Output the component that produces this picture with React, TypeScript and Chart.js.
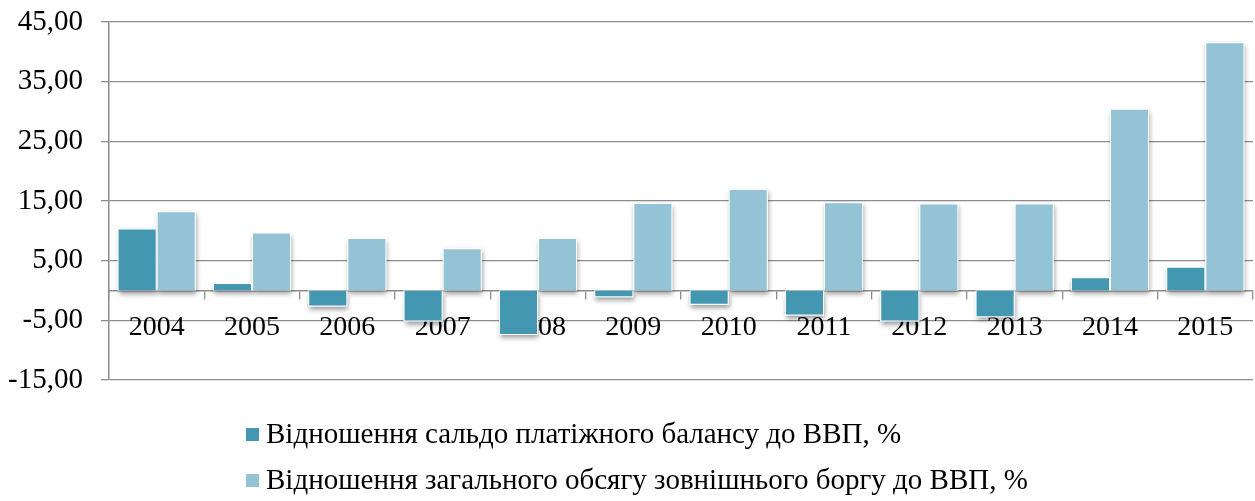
import React, { useEffect, useRef } from "react";
import { Chart, registerables } from "chart.js";

Chart.register(...registerables);

const years = ["2004", "2005", "2006", "2007", "2008", "2009", "2010", "2011", "2012", "2013", "2014", "2015"];
const balanceToGdp = [10.4, 1.25, -2.7, -5.2, -7.45, -1.15, -2.4, -4.2, -5.2, -4.5, 2.2, 4.0];
const debtToGdp = [13.3, 9.7, 8.8, 7.1, 8.8, 14.65, 17.0, 14.8, 14.6, 14.6, 30.45, 41.6];
const seriesNames = [
  "Відношення сальдо платіжного балансу до ВВП, %",
  "Відношення загального обсягу зовнішнього боргу до ВВП, %",
];
const yMin = -15;
const yMax = 45;
const yStep = 10;

const DARK = "#4397b0";
const LIGHT = "#93c3d5";
const GRID = "#8c8c8c";
const FONT = "'Liberation Serif'";

const shadowPlugin = {
  id: "barShadow",
  beforeDatasetsDraw(chart: any) {
    const ctx = chart.ctx;
    chart.data.datasets.forEach((_: any, i: number) => {
      const meta = chart.getDatasetMeta(i);
      meta.data.forEach((el: any) => {
        const { x, y, base, width } = el.getProps(["x", "y", "base", "width"], true);
        const top = Math.min(y, base);
        const h = Math.abs(base - y);
        ctx.save();
        ctx.shadowColor = "rgba(0,0,0,0.4)";
        ctx.shadowBlur = 5;
        ctx.shadowOffsetX = 1;
        ctx.shadowOffsetY = 3;
        ctx.fillStyle = "#ffffff";
        ctx.fillRect(x - width / 2, top, width, h);
        ctx.restore();
      });
    });
  },
};

const legendPlugin = {
  id: "stackedLegend",
  afterDraw(chart: any) {
    const ctx = chart.ctx;
    const startX = 246;
    const rows = [435, 481];
    ctx.save();
    chart.data.datasets.forEach((ds: any, i: number) => {
      const cy = rows[i];
      ctx.fillStyle = ds.backgroundColor;
      ctx.fillRect(startX, cy - 7, 13, 13);
      ctx.fillStyle = "#000000";
      ctx.font = "29px 'Liberation Serif'";
      ctx.textBaseline = "middle";
      ctx.textAlign = "left";
      ctx.fillText(ds.label, startX + 20, cy);
    });
    ctx.restore();
  },
};

export default function App() {
  const canvasRef = useRef<HTMLCanvasElement | null>(null);

  useEffect(() => {
    let chart: Chart | null = null;
    let cancelled = false;
    const build = () => {
      if (cancelled || !canvasRef.current) return;
      chart = new Chart(canvasRef.current, {
        type: "bar",
        data: {
          labels: years,
          datasets: [
            {
              label: seriesNames[0],
              data: balanceToGdp,
              backgroundColor: DARK,
              borderColor: "#ffffff",
              borderWidth: 1,
              barPercentage: 1,
              categoryPercentage: 0.82,
            },
            {
              label: seriesNames[1],
              data: debtToGdp,
              backgroundColor: LIGHT,
              borderColor: "#ffffff",
              borderWidth: 1,
              barPercentage: 1,
              categoryPercentage: 0.82,
            },
          ],
        },
        options: {
          responsive: false,
          animation: false,
          devicePixelRatio: 1,
          layout: { padding: { top: 22, bottom: 121, left: 0, right: 2 } },
          plugins: {
            legend: { display: false },
            tooltip: { enabled: false },
          },
          scales: {
            x: {
              position: { y: 0 } as any,
              grid: {
                offset: true,
                drawOnChartArea: false,
                drawTicks: true,
                tickLength: 8,
                color: GRID,
                lineWidth: 1.3,
              },
              border: { display: true, color: GRID, width: 1.5 },
              ticks: {
                color: "#000000",
                padding: 12,
                font: { family: FONT, size: 28 },
                maxRotation: 0,
                autoSkip: false,
              },
            },
            y: {
              min: yMin,
              max: yMax,
              afterFit: (scale: any) => {
                scale.width = 109;
                scale.paddingTop = 0;
                scale.paddingBottom = 0;
              },
              grid: {
                color: GRID,
                lineWidth: 1.3,
                drawTicks: true,
                tickLength: 8,
              },
              border: { display: true, color: GRID, width: 1.5 },
              ticks: {
                stepSize: yStep,
                color: "#000000",
                padding: 18,
                font: { family: FONT, size: 29 },
                callback: (v: any) => Number(v).toFixed(2).replace(".", ","),
              },
            },
          },
        },
        plugins: [shadowPlugin, legendPlugin],
      });
    };
    const fonts: any = (document as any).fonts;
    if (fonts && fonts.load) {
      fonts
        .load(`29px 'Liberation Serif'`, "Відношення 2004")
        .catch(() => null)
        .then(build);
    } else {
      build();
    }
    return () => {
      cancelled = true;
      if (chart) chart.destroy();
    };
  }, []);

  return (
    <div style={{ position: "absolute", left: 0, top: 0, width: 1255, height: 501, background: "#ffffff" }}>
      <canvas ref={canvasRef} width={1255} height={501} style={{ display: "block" }} />
    </div>
  );
}
